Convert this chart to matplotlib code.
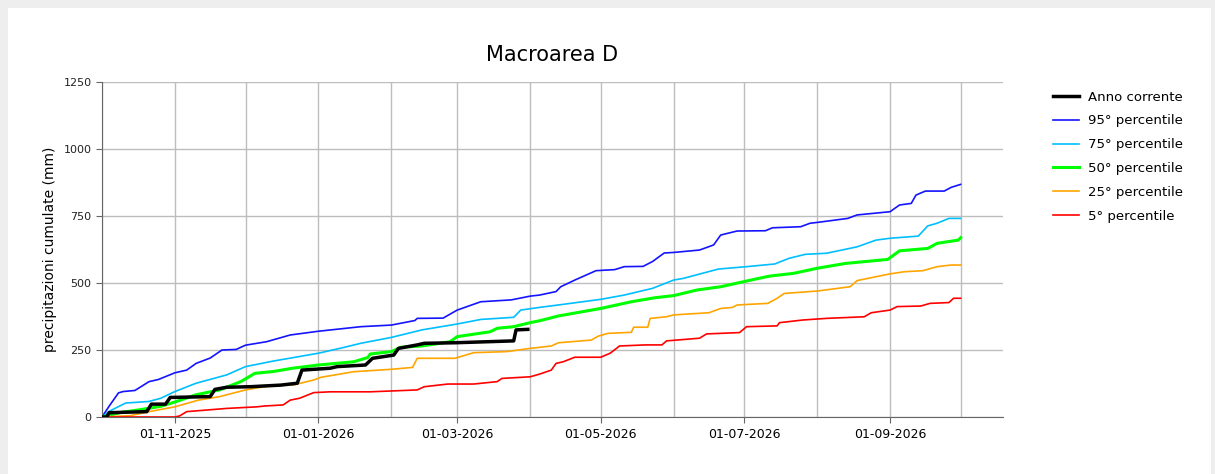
import numpy as np
import pandas as pd
import matplotlib
matplotlib.use("Agg")
import matplotlib.pyplot as plt
import matplotlib.dates as mdates
from matplotlib.patches import Rectangle

# --- DATA (days since 01-10-2025, cumulative mm) ---
START = pd.Timestamp("2025-10-01")

p95_days = [0, 3, 7, 9, 14, 20, 24, 31, 36, 40, 46, 51, 57, 61, 70, 80, 92, 110, 123, 133, 134,
            145, 151, 161, 174, 182, 186, 193, 195, 201, 210, 218, 222, 230, 234, 239, 243, 254,
            260, 263, 270, 282, 285, 297, 301, 304, 317, 321, 335, 339, 344, 346, 350, 358, 361, 365]
p95_vals = [0, 40, 90, 95, 99, 132, 140, 165, 175, 200, 220, 250, 252, 268, 281, 306, 320, 337, 343, 360, 368,
            369, 399, 430, 437, 451, 455, 468, 486, 511, 546, 550, 561, 562, 580, 612, 614, 623,
            642, 679, 694, 695, 706, 710, 723, 726, 741, 754, 766, 791, 797, 828, 843, 843, 857, 868]

p75_days = [0, 3, 10, 20, 25, 31, 40, 53, 61, 73, 92, 103, 110, 123, 136, 151, 161, 175, 178, 186,
            194, 212, 222, 234, 243, 247, 262, 274, 286, 292, 299, 308, 321, 329, 335, 347, 351,
            355, 360, 365]
p75_vals = [0, 21, 52, 58, 70, 95, 126, 157, 188, 209, 238, 260, 275, 297, 325, 347, 364, 372, 399, 409,
            418, 439, 455, 480, 511, 517, 552, 561, 571, 592, 607, 611, 635, 660, 667, 675, 713,
            723, 741, 741]

p50_days = [0, 8, 16, 25, 31, 40, 50, 59, 65, 73, 81, 92, 107, 113, 114, 123, 127, 136, 148, 151,
            165, 168, 175, 182, 186, 194, 212, 225, 235, 243, 253, 263, 279, 284, 294, 304, 316,
            334, 339, 351, 355, 364, 365]
p50_vals = [0, 17, 27, 40, 56, 83, 101, 132, 163, 170, 182, 194, 206, 222, 235, 244, 260, 265, 281, 300,
            318, 331, 337, 352, 359, 377, 405, 430, 445, 453, 474, 486, 517, 526, 536, 555, 573,
            588, 620, 629, 648, 660, 669]

p25_days = [0, 12, 20, 31, 41, 50, 61, 73, 81, 90, 93, 107, 123, 132, 134, 150, 158, 172, 182, 191,
            194, 208, 211, 215, 225, 226, 232, 233, 240, 243, 258, 263, 268, 270, 283, 287, 290,
            304, 318, 321, 335, 341, 349, 355, 361, 365]
p25_vals = [0, 5, 20, 38, 63, 76, 101, 119, 119, 138, 148, 169, 178, 185, 219, 219, 240, 244, 256, 265,
            277, 287, 302, 312, 316, 335, 335, 368, 374, 381, 389, 405, 409, 418, 424, 443, 461,
            470, 486, 509, 534, 542, 546, 561, 567, 567]

p5_days = [0, 31, 33, 36, 53, 66, 69, 77, 80, 84, 90, 97, 114, 134, 137, 147, 158, 168, 170, 182,
           186, 191, 193, 196, 201, 212, 216, 220, 231, 238, 240, 254, 257, 271, 274, 287, 288,
           298, 308, 324, 327, 335, 338, 348, 352, 360, 362, 365]
p5_vals = [0, 0, 4, 20, 32, 38, 41, 45, 63, 70, 91, 94, 94, 101, 113, 123, 123, 132, 144, 150,
           160, 175, 200, 206, 223, 223, 238, 265, 269, 269, 284, 294, 310, 315, 337, 340, 352,
           362, 368, 374, 389, 399, 412, 414, 424, 427, 443, 443]

cur_days = [0, 2, 3, 19, 21, 27, 29, 46, 48, 53, 63, 76, 83, 85, 97, 100, 112, 115, 124, 126,
            134, 137, 150, 175, 176, 181]
cur_vals = [0, 0, 16, 20, 48, 48, 73, 76, 103, 111, 113, 119, 126, 175, 182, 188, 194, 219, 231, 256,
            269, 275, 277, 284, 325, 327]


def to_dates(days):
    return START + pd.to_timedelta(days, unit="D")


fig = plt.figure(figsize=(12.15, 4.74), dpi=100, facecolor="#eeeeee")
fig.patches.append(Rectangle((8 / 1215, 0), 1203 / 1215, 466 / 474, transform=fig.transFigure,
                             facecolor="white", edgecolor="none", zorder=-10))

ax = fig.add_axes([102 / 1215, 1 - 417 / 474, 901 / 1215, 335 / 474])
ax.set_facecolor("white")

ax.plot(to_dates(cur_days), cur_vals, color="black", lw=2.5, label="Anno corrente", zorder=6)
ax.plot(to_dates(p95_days), p95_vals, color="#1414ff", lw=1.2, label="95° percentile")
ax.plot(to_dates(p75_days), p75_vals, color="#00bfff", lw=1.2, label="75° percentile")
ax.plot(to_dates(p50_days), p50_vals, color="#00ff00", lw=2.2, label="50° percentile")
ax.plot(to_dates(p25_days), p25_vals, color="#ffa500", lw=1.2, label="25° percentile")
ax.plot(to_dates(p5_days), p5_vals, color="#ff0000", lw=1.2, label="5° percentile")

ax.set_xlim(pd.Timestamp("2025-10-01"), pd.Timestamp("2026-10-19"))
ax.set_ylim(0, 1250)
ax.set_yticks([0, 250, 500, 750, 1000, 1250])

ax.xaxis.set_major_locator(mdates.MonthLocator(bymonth=[1, 3, 5, 7, 9, 11]))
ax.xaxis.set_major_formatter(mdates.DateFormatter("%d-%m-%Y"))
ax.xaxis.set_minor_locator(mdates.MonthLocator(bymonth=[2, 4, 6, 8, 10, 12]))

ax.grid(True, which="both", axis="x", color="#bdbdbd", lw=1)
ax.grid(True, which="major", axis="y", color="#bdbdbd", lw=1)
ax.set_axisbelow(True)

for s in ["top", "right"]:
    ax.spines[s].set_visible(False)
for s in ["left", "bottom"]:
    ax.spines[s].set_color("#666666")

ax.tick_params(axis="x", which="major", labelsize=9, length=4, color="#666666", pad=4)
ax.tick_params(axis="x", which="minor", length=0)
ax.tick_params(axis="y", labelsize=8, length=4, color="#666666", labelcolor="#222222")

ax.set_ylabel("precipitazioni cumulate (mm)", fontsize=10, labelpad=5)
ax.set_title("Macroarea D", fontsize=15, pad=15)

ax.legend(loc="upper left", bbox_to_anchor=(1.042, 1.01), frameon=False, fontsize=9.5,
          handlelength=2.0, handletextpad=0.7, labelspacing=0.82)

fig.savefig("out.png", dpi=100, facecolor=fig.get_facecolor())
